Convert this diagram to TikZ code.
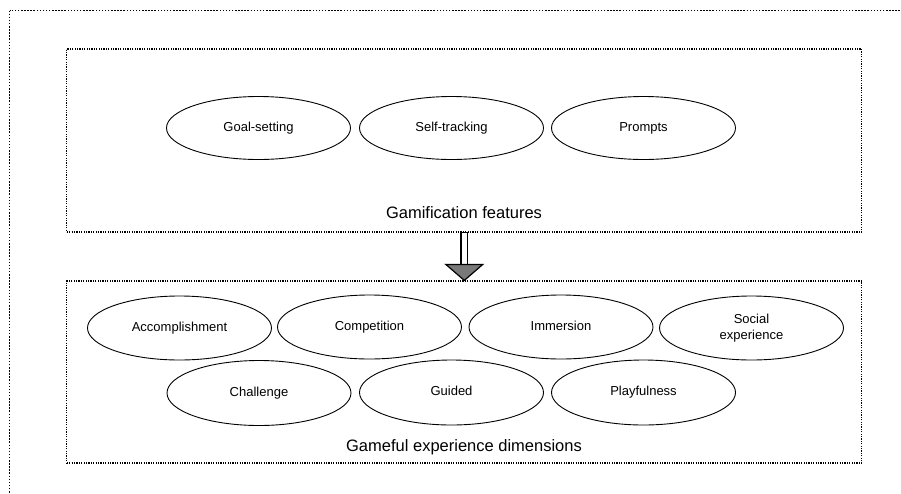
\documentclass[tikz,border=0pt]{standalone}
\usepackage{fontspec}
\setmainfont{Liberation Sans}
\usetikzlibrary{shapes.geometric,calc}
\begin{document}
\begin{tikzpicture}[x=1pt,y=-1pt,
  outerbox/.style={draw, line width=1.5pt, dash pattern=on 1.5pt off 1.6pt},
  groupbox/.style={draw, line width=1.2pt, dash pattern=on 1.2pt off 1.2pt, rectangle, minimum width=795pt, inner sep=0pt},
  oval/.style={draw, ellipse, line width=0.9pt, minimum width=184pt, minimum height=63pt, inner sep=0pt, align=center, text height=9.4pt, text depth=2.8pt, font=\fontsize{13}{16}\selectfont},
  twoline/.style={text height=, text depth=},
  caption/.style={font=\fontsize{16.5}{19}\selectfont, inner sep=0pt, text height=12pt, text depth=3.5pt},
  arrowshaft/.style={draw, line width=1.3pt, fill=white},
  arrowhead/.style={draw, line width=1.2pt, fill=gray!95!black, line join=miter}]
\useasboundingbox (0,0) rectangle (901,493);
\clip (0,0) rectangle (901,493);
\path[outerbox] (9.5,10.5) rectangle (910,510);
% group boxes
\node[groupbox, minimum height=183pt] (feat) at (464.3,140.5) {};
\node[groupbox, minimum height=182pt] (dims) at (464.3,372) {};
% top row
\node[oval] (goal) at (258.5,128) {Goal-setting};
\node[oval] (self) at (451.5,128) {Self-tracking};
\node[oval] (prom) at (643.5,128) {Prompts};
\node[caption] (featlbl) at (464,214) {Gamification features};
% bottom rows
\node[oval, minimum height=64pt] (acc) at (179.5,328) {Accomplishment};
\node[oval, minimum height=64pt] (comp) at (369.5,327) {Competition};
\node[oval, minimum height=64pt] (imm) at (561,327) {Immersion};
\node[oval, twoline, minimum height=64pt] (soc) at (751.5,328) {Social\\experience};
\node[oval, minimum height=65pt] (chal) at (259,393) {Challenge};
\node[oval, minimum height=65pt] (guid) at (451.5,392.5) {Guided};
\node[oval, minimum height=65pt] (play) at (643.5,392.5) {Playfulness};
\node[caption] (dimslbl) at (464,447) {Gameful experience dimensions};
% block arrow from feat to dims
\coordinate (as) at (feat.south -| 464.3,0);
\coordinate (at) at (dims.north -| 464.3,0);
\path[arrowshaft] ($(as)+(-3.3,0)$) rectangle ($(at)+(3.3,-16)$);
\path[arrowhead] ($(at)+(-18.5,-16)$) -- ($(at)+(18.5,-16)$) -- (at) -- cycle;
\end{tikzpicture}
\end{document}
